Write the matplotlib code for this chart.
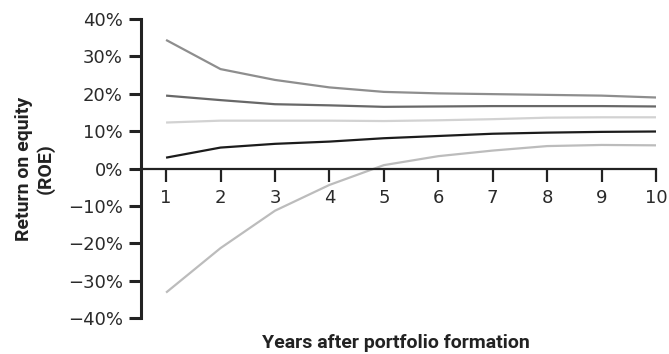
import matplotlib
matplotlib.use("Agg")
import matplotlib.pyplot as plt
from matplotlib.ticker import FuncFormatter

years = [1, 2, 3, 4, 5, 6, 7, 8, 9, 10]
roe_high = [34.4, 26.6, 23.7, 21.7, 20.5, 20.1, 19.9, 19.7, 19.5, 19.0]
roe_midhigh = [19.5, 18.3, 17.2, 16.9, 16.5, 16.6, 16.7, 16.7, 16.7, 16.6]
roe_mid = [12.3, 12.8, 12.8, 12.8, 12.7, 12.9, 13.2, 13.6, 13.7, 13.7]
roe_midlow = [2.9, 5.6, 6.6, 7.2, 8.1, 8.7, 9.3, 9.6, 9.8, 9.9]
roe_low = [-33.2, -21.3, -11.3, -4.4, 0.9, 3.3, 4.8, 6.0, 6.3, 6.2]
yticks = [-40, -30, -20, -10, 0, 10, 20, 30, 40]

plt.rcParams['font.family'] = ["DejaVu Sans"]

fig = plt.figure(figsize=(6.69, 3.54), dpi=100)
ax = fig.add_axes([0.2108, 0.1017, 0.9806 - 0.2108, 0.9463 - 0.1017])

series = [
    (roe_high, "#8e8e8e"),
    (roe_midhigh, "#686868"),
    (roe_mid, "#d2d2d2"),
    (roe_midlow, "#1c1c1c"),
    (roe_low, "#bcbcbc"),
]
for vals, c in series:
    ax.plot(years, vals, color=c, lw=1.6, solid_capstyle='butt')

ax.set_xlim(0.54, 10)
ax.set_ylim(-40, 40)
ax.set_xticks(years)
ax.set_yticks(yticks)
ax.yaxis.set_major_formatter(FuncFormatter(lambda v, p: f"{int(v)}%".replace("-", "\u2212")))

for s in ["top", "right"]:
    ax.spines[s].set_visible(False)
ax.spines["bottom"].set_position(("data", 0))
ax.spines["left"].set_linewidth(2.2)
ax.spines["bottom"].set_linewidth(1.6)
ax.spines["left"].set_color("#222222")
ax.spines["bottom"].set_color("#222222")

ax.tick_params(axis='y', direction='out', length=9, width=2.2, color="#222222",
               labelsize=13, labelcolor="#2a2a2a", pad=4)
ax.tick_params(axis='x', direction='out', length=9, width=1.6, color="#222222",
               labelsize=13, labelcolor="#2a2a2a", pad=6)

fig.text(0.052, 0.523, "Return on equity\n(ROE)", rotation=90, ha='center', va='center',
         fontsize=14, fontweight='bold', color="#222222", linespacing=1.15,
         family=["Roboto", "DejaVu Sans"])
fig.text(0.591, 0.032, "Years after portfolio formation", ha='center', va='center',
         fontsize=14, fontweight='bold', color="#222222",
         family=["Roboto", "DejaVu Sans"])

fig.savefig("out.png", dpi=100)
